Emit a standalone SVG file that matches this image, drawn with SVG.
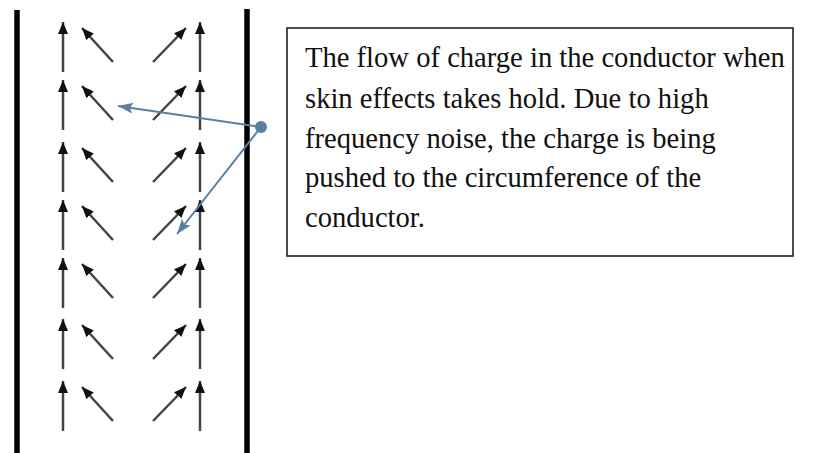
<svg xmlns="http://www.w3.org/2000/svg" width="820" height="453" viewBox="0 0 820 453">
<defs>
<marker id="ah" markerUnits="userSpaceOnUse" markerWidth="13" markerHeight="11" refX="12" refY="5.5" orient="auto">
<path d="M0,0.5 L12,5.5 L0,10.5 z" fill="#111"/>
</marker>
<marker id="bh" markerUnits="userSpaceOnUse" markerWidth="16" markerHeight="12" refX="15" refY="6" orient="auto">
<path d="M0,0.5 L15,6 L0,11.5 L3,6 z" fill="#5a7fa5"/>
</marker>
<style>
.wall{stroke:#000;stroke-width:5.5}
.a{stroke:#444;stroke-width:2.5;marker-end:url(#ah);fill:none}
.c{stroke:#5a7fa5;stroke-width:2;marker-end:url(#bh);fill:none}
.t{font-family:"Liberation Serif","Times New Roman",serif;font-size:28.6px;fill:#111}
</style>
</defs>
<rect width="820" height="453" fill="#fff"/>
<g id="conductor">
<line class="wall" x1="17" y1="10" x2="17" y2="453"/>
<line class="wall" x1="247" y1="9" x2="247" y2="453"/>
</g>
<g id="charge-arrows">
<g transform="translate(0,22)"><line class="a" x1="63" y1="50" x2="63" y2="0"/><line class="a" x1="113" y1="40" x2="82" y2="6"/><line class="a" x1="153" y1="40" x2="186" y2="6"/><line class="a" x1="200" y1="50" x2="200" y2="0"/></g>
<g transform="translate(0,80)"><line class="a" x1="63" y1="50" x2="63" y2="0"/><line class="a" x1="113" y1="40" x2="82" y2="6"/><line class="a" x1="153" y1="40" x2="186" y2="6"/><line class="a" x1="200" y1="50" x2="200" y2="0"/></g>
<g transform="translate(0,142)"><line class="a" x1="63" y1="50" x2="63" y2="0"/><line class="a" x1="113" y1="40" x2="82" y2="6"/><line class="a" x1="153" y1="40" x2="186" y2="6"/><line class="a" x1="200" y1="50" x2="200" y2="0"/></g>
<g transform="translate(0,200)"><line class="a" x1="63" y1="50" x2="63" y2="0"/><line class="a" x1="113" y1="40" x2="82" y2="6"/><line class="a" x1="153" y1="40" x2="186" y2="6"/><line class="a" x1="200" y1="50" x2="200" y2="0"/></g>
<g transform="translate(0,258)"><line class="a" x1="63" y1="50" x2="63" y2="0"/><line class="a" x1="113" y1="40" x2="82" y2="6"/><line class="a" x1="153" y1="40" x2="186" y2="6"/><line class="a" x1="200" y1="50" x2="200" y2="0"/></g>
<g transform="translate(0,319)"><line class="a" x1="63" y1="50" x2="63" y2="0"/><line class="a" x1="113" y1="40" x2="82" y2="6"/><line class="a" x1="153" y1="40" x2="186" y2="6"/><line class="a" x1="200" y1="50" x2="200" y2="0"/></g>
<g transform="translate(0,381)"><line class="a" x1="63" y1="50" x2="63" y2="0"/><line class="a" x1="113" y1="40" x2="82" y2="6"/><line class="a" x1="153" y1="40" x2="186" y2="6"/><line class="a" x1="200" y1="50" x2="200" y2="0"/></g>
</g>
<g id="callout">
<rect x="287" y="28" width="506" height="228" fill="#fff" stroke="#222" stroke-width="1.6"/>
<text class="t" x="305" y="67">The flow of charge in the conductor when</text>
<text class="t" x="305" y="108">skin effects takes hold. Due to high</text>
<text class="t" x="305" y="148">frequency noise, the charge is being</text>
<text class="t" x="305" y="187">pushed to the circumference of the</text>
<text class="t" x="305" y="227">conductor.</text>
</g>
<g id="connectors">
<line class="c" x1="261" y1="127" x2="118" y2="106"/>
<line class="c" x1="261" y1="127" x2="177" y2="234"/>
<circle cx="261" cy="127" r="6" fill="#5a7fa5"/>
</g>
</svg>
